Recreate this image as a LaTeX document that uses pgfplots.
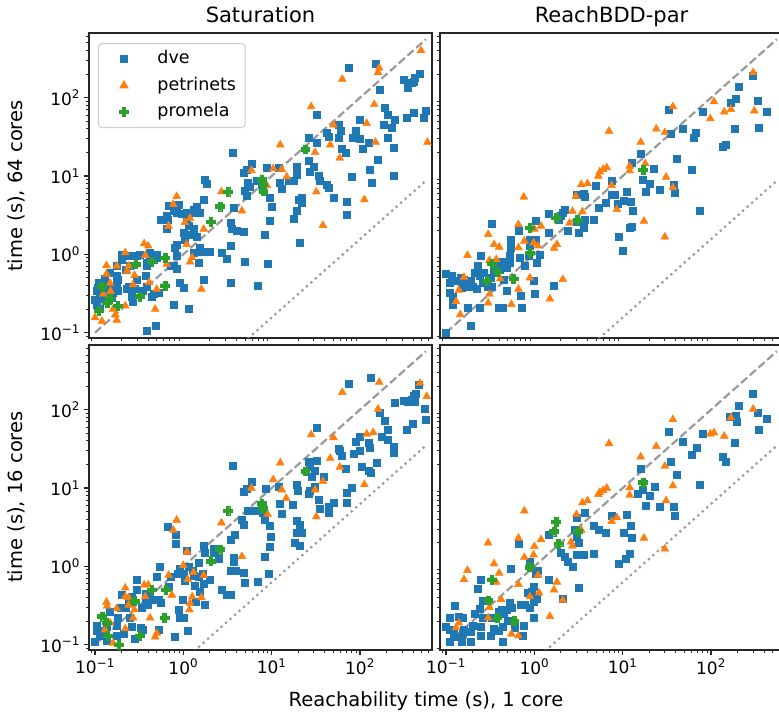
\documentclass[border=0pt]{standalone}
\usepackage{pgfplots}
\pgfplotsset{compat=1.18}
\usepackage{fontspec}
\setmainfont{DejaVu Sans}
\definecolor{c0}{HTML}{1F77B4}
\definecolor{c1}{HTML}{FF7F0E}
\definecolor{c2}{HTML}{2CA02C}
\definecolor{lg}{HTML}{9A9A9A}
\definecolor{legedge}{HTML}{CCCCCC}
\newcommand\ticksz{\fontsize{17}{20}\selectfont}
\newcommand\titlesz{\fontsize{21}{25}\selectfont}
\newcommand\labsz{\fontsize{19.5}{23}\selectfont}
\newcommand\legsz{\fontsize{17.5}{21}\selectfont}
\pgfdeclareplotmark{Pplus}{%
  \pgfmathsetlengthmacro\pmA{\pgfplotmarksize}%
  \pgfmathsetlengthmacro\pmB{0.4*\pgfplotmarksize}%
  \pgfpathmoveto{\pgfqpoint{-\pmB}{\pmA}}%
  \pgfpathlineto{\pgfqpoint{\pmB}{\pmA}}%
  \pgfpathlineto{\pgfqpoint{\pmB}{\pmB}}%
  \pgfpathlineto{\pgfqpoint{\pmA}{\pmB}}%
  \pgfpathlineto{\pgfqpoint{\pmA}{-\pmB}}%
  \pgfpathlineto{\pgfqpoint{\pmB}{-\pmB}}%
  \pgfpathlineto{\pgfqpoint{\pmB}{-\pmA}}%
  \pgfpathlineto{\pgfqpoint{-\pmB}{-\pmA}}%
  \pgfpathlineto{\pgfqpoint{-\pmB}{-\pmB}}%
  \pgfpathlineto{\pgfqpoint{-\pmA}{-\pmB}}%
  \pgfpathlineto{\pgfqpoint{-\pmA}{\pmB}}%
  \pgfpathlineto{\pgfqpoint{-\pmB}{\pmB}}%
  \pgfpathclose
  \pgfusepathqfillstroke
}
\pgfplotsset{every axis/.append style={xmode=log, ymode=log, scale only axis, width=343pt, height=305pt,
  xmin=0.0855, xmax=653, ymin=0.0855, ymax=670,
  axis line style={line width=1.2pt, black!85},
  tick align=outside,
  major tick length=5.5pt, minor tick length=3.2pt,
  major tick style={line width=1.2pt, black!85},
  minor tick style={line width=0.9pt, black!85},
  tick label style={font=\ticksz},
  xtick={0.1,1,10,100}, ytick={0.1,1,10,100},
  minor xtick={0.09,0.2,0.3,0.4,0.5,0.6,0.7,0.8,0.9,2,3,4,5,6,7,8,9,20,30,40,50,60,70,80,90,200,300,400,500,600},
  minor ytick={0.09,0.2,0.3,0.4,0.5,0.6,0.7,0.8,0.9,2,3,4,5,6,7,8,9,20,30,40,50,60,70,80,90,200,300,400,500,600},
  xticklabels={10\textsuperscript{−1},10\textsuperscript{0},10\textsuperscript{1},10\textsuperscript{2}},
  yticklabels={10\textsuperscript{−1},10\textsuperscript{0},10\textsuperscript{1},10\textsuperscript{2}},
  xtick pos=bottom, ytick pos=left, anchor=south west}}
\begin{document}
\begin{tikzpicture}[x=1pt,y=1pt]
\useasboundingbox (0,0) rectangle (779pt,714pt);
% ---------------- top left: Saturation, 64 cores
\begin{axis}[xmajorticks=false, xminorticks=false, at={(89pt,376pt)},
  legend image code/.code={\path (0pt,0pt) (36pt,0pt); \draw[#1, sharp corners, opacity=1] plot coordinates {(18pt,0pt)};},
  legend style={at={(0.0262,0.967)}, anchor=north west, draw=legedge, line width=1pt,
   rounded corners=3.5pt, fill=white, fill opacity=0.8, draw opacity=1, text opacity=1,
   inner xsep=7pt, inner ysep=5pt, font=\legsz, row sep=5.5pt, column sep=13pt,
   nodes={inner sep=2pt, text height=13pt, text depth=4pt}},
  legend cell align=left]
\addplot[only marks, mark=square*, mark size=3.5pt, color=c0] coordinates {(74,245) (150,270) (310,170) (350,134) (385,156) (420,180) (470,200) (400,160) (168,128) (192,75) (206,61) (249,53) (226,41) (337,55) (400,65) (557,68) (520,56) (184,45) (206,31) (243,23) (158,16) (238,10) (136,8.3) (128,12) (124,27) (107,22) (100,52) (89,38) (82,31) (100,30) (57,45) (61,38) (57,31) (62,22) (68,20) (42,36) (44,32) (32,61) (26,31) (32,27) (26,15.5) (27,11.3) (34,10) (30,13) (35,8.6) (42,7.8) (44,7.1) (50,5.3) (70,4.7) (70,3.2) (81,9.7) (22,5.3) (20,5) (22,4.6) (19,3.6) (17.6,2.85) (21,1.4) (15.4,8.6) (17.6,8.6) (12.4,8.2) (13,6.8) (8.8,12.8) (12,12.8) (19,13) (19,10.5) (9.6,5.3) (10,4.1) (9.4,2.7) (8.4,1.8) (9.1,0.77) (7,0.4) (4.9,6.5) (5.2,5.6) (3.7,3.9) (3.4,2.5) (3.5,2.1) (4,2) (4.8,1.95) (4.9,0.8) (3.4,1.28) (2.7,1.05) (3.1,0.88) (3.4,0.44) (5.4,8.2) (5.7,7.4) (4.8,11) (5.2,12.2) (5.9,14.4) (6.8,8.6) (7.7,7.8) (7.9,7.1) (3.6,20) (1.76,8.9) (1.84,8) (1.68,5) (1.42,4.1) (1.3,3.75) (1.36,3.4) (1.54,3.4) (1.09,3.4) (1.09,2.8) (1.14,2.3) (1,1.9) (1.04,1.55) (1.3,2.1) (1.19,1.8) (1.42,1.7) (1.54,1.22) (1.6,1.08) (1.3,1.05) (2,1.08) (1.48,0.78) (1.68,0.47) (0.92,0.43) (1,0.38) (0.77,0.23) (1.14,0.2) (0.84,0.95) (0.84,1.34) (0.8,1.22) (0.77,0.71) (0.84,0.66) (0.71,0.71) (0.65,3.1) (0.66,2.8) (0.65,2.1) (0.56,2.8) (0.68,4.2) (0.77,3.6) (0.84,3.4) (0.96,3.3) (0.88,4.3) (0.46,0.86) (0.5,1.0) (0.5,0.91) (0.42,0.86) (0.42,1.05) (0.38,0.78) (0.38,0.71) (0.37,0.53) (0.38,0.39) (0.35,0.34) (0.44,0.29) (0.46,0.31) (0.53,0.32) (0.38,0.107) (0.49,0.124) (0.3,0.48) (0.28,0.36) (0.27,0.25) (0.26,0.29) (0.23,0.36) (0.24,0.39) (0.25,0.71) (0.22,0.64) (0.2,1.0) (0.23,0.95) (0.26,0.95) (0.3,0.95) (0.32,1.0) (0.2,0.86) (0.176,0.43) (0.16,0.39) (0.16,0.32) (0.18,0.34) (0.155,0.28) (0.148,0.32) (0.135,0.41) (0.13,0.49) (0.124,0.36) (0.114,0.42) (0.11,0.43) (0.107,0.38) (0.104,0.34) (0.114,0.29) (0.12,0.27) (0.1,0.26) (0.104,0.23) (0.114,0.2) (0.176,0.71) (0.148,0.58) (0.176,0.53) (0.18,0.48)};
\addlegendentry{dve}
\addplot[only marks, mark=triangle*, mark size=4.6pt, color=c1] coordinates {(490,400) (165,240) (160,210) (63,172) (28,77) (145,82) (50,45) (119,47) (12.5,25) (46,25) (59,17) (150,27) (580,27) (31,20) (10.4,12.4) (5.9,11.8) (13,12.2) (14.8,9.8) (8.8,7.6) (32,6.3) (112,5) (38,2.35) (2.7,6.3) (0.84,5.5) (0.77,4.35) (4.6,3.6) (1.04,2.55) (1.19,2.9) (0.68,2.3) (1.7,2.1) (1.09,1.34) (1.26,0.91) (1.19,0.8) (0.65,0.75) (1.6,0.36) (0.5,0.36) (0.48,0.2) (0.36,1.37) (0.4,1.28) (0.37,0.97) (0.22,1.05) (0.176,0.71) (0.135,0.72) (0.135,0.56) (0.24,0.71) (0.23,0.61) (0.28,0.54) (0.27,0.41) (0.148,0.43) (0.15,0.34) (0.124,0.31) (0.22,0.22) (0.16,0.2) (0.17,0.17) (0.176,0.145) (0.12,0.14) (0.1,0.156) (0.41,0.44)};
\addlegendentry{petrinets}
\addplot[only marks, mark=Pplus, mark size=4.4pt, color=c2] coordinates {(24,22) (7.7,9.1) (8,7.8) (8,6.4) (3.2,6.3) (2.6,4.1) (2.05,2.6) (0.62,0.91) (0.44,0.8) (0.29,0.75) (0.62,0.4) (0.32,0.29) (0.12,0.39) (0.148,0.27) (0.137,0.24) (0.11,0.19) (0.18,0.22)};
\addlegendentry{promela}
\addplot[color=lg, line width=2.2pt, dash pattern=on 8.1pt off 3.5pt, forget plot] coordinates {(0.1,0.1) (556,556)};
\addplot[color=lg, line width=2.2pt, dash pattern=on 2.2pt off 3.8pt, forget plot] coordinates {(0.1,0.0015625) (556,8.6875)};
\end{axis}
% ---------------- top right: ReachBDD-par, 64 cores
\begin{axis}[xmajorticks=false, xminorticks=false, ymajorticks=false, yminorticks=false, at={(440pt,376pt)}]
\addplot[only marks, mark=square*, mark size=3.5pt, color=c0] coordinates {(294,189) (208,137) (192,98) (166,86) (337,91) (426,67) (80,67) (33,71) (343,41) (184,40) (48,40) (35,35) (67,36) (63,31) (148,25) (135,24) (41,16.4) (61,12) (16,19) (12.8,14.6) (22.6,12.5) (17,9.1) (20,8) (18,6.4) (26.5,6.6) (39,6.2) (38,7.8) (74,3.65) (11,6.3) (10.2,4.8) (12.4,4.65) (13,3.65) (8.8,4.4) (8.2,5.7) (7.6,5.7) (7.6,8.6) (6.5,4.5) (5.3,3.9) (4.65,2.75) (3.75,5.5) (3.6,5.9) (3,5.8) (5,7.6) (11.9,2.2) (12.6,2.25) (8.9,1.67) (10,1.1) (3.6,2.2) (3.15,1.9) (3.75,2.75) (3,2.6) (2.38,2.0) (2.2,3.75) (2.1,3.4) (2,3.1) (1.87,2.8) (1.44,3.35) (1.44,1.9) (1.64,0.4) (1.0,0.31) (0.98,0.46) (1.04,2.66) (1.04,1.55) (1.16,1.0) (1.06,0.79) (0.89,1.55) (0.88,1.28) (0.87,0.95) (0.78,0.71) (0.69,0.91) (0.66,2.0) (0.54,1.55) (0.54,1.22) (0.53,0.95) (0.53,0.78) (0.49,0.68) (0.45,0.48) (0.49,0.34) (0.7,0.3) (0.72,0.21) (0.44,0.21) (0.39,0.21) (0.33,2.46) (0.37,0.71) (0.35,0.58) (0.32,0.5) (0.33,0.39) (0.3,0.39) (0.26,0.43) (0.25,0.95) (0.23,0.71) (0.22,0.58) (0.21,0.58) (0.19,0.46) (0.2,0.39) (0.175,0.39) (0.15,0.38) (0.16,0.48) (0.145,0.5) (0.133,0.46) (0.116,0.54) (0.1,0.57) (0.11,0.43) (0.11,0.32) (0.12,0.29) (0.12,0.23) (0.175,0.21) (0.24,0.21) (0.19,0.124) (0.1,0.1) (0.22,0.36) (0.24,0.53) (0.27,0.58) (0.43,0.8) (0.41,0.64)};
\addplot[only marks, mark=triangle*, mark size=4.6pt, color=c1] coordinates {(300,210) (37,77) (108,89) (98,54) (141,66) (168,71) (309,68) (24,40) (30,36) (7,37.5) (16,27) (18,14.4) (12,13.4) (12,11.7) (31,9.7) (37,7.1) (6.6,12.8) (6,12.2) (5.5,11.3) (5.3,10) (4,8) (3.4,7.8) (7.5,7.6) (2.95,5.5) (0.76,5.4) (8.6,3.75) (17.4,2.66) (30,1.67) (2.7,3.55) (3.5,3.5) (2.5,2.5) (1.19,2.3) (1.0,2.1) (0.66,2.4) (0.3,1.8) (0.35,1.34) (0.4,1.24) (0.77,1.48) (0.66,1.22) (0.98,1.4) (1.1,1.28) (1.8,1.34) (1.67,1.2) (0.175,0.97) (0.31,0.84) (0.37,0.86) (2.1,0.48) (0.89,0.5) (0.41,0.49) (0.16,0.51) (0.66,0.36) (0.31,0.31) (0.14,0.35) (0.13,0.25) (0.145,0.17) (0.3,0.24) (0.55,0.23) (1.5,0.27)};
\addplot[only marks, mark=Pplus, mark size=4.4pt, color=c2] coordinates {(17,12) (1.76,2.94) (3.07,2.75) (0.89,2.2) (0.89,1.05) (0.33,0.76) (0.38,0.6) (0.29,0.46) (0.58,0.49)};
\addplot[color=lg, line width=2.2pt, dash pattern=on 8.1pt off 3.5pt] coordinates {(0.1,0.1) (556,556)};
\addplot[color=lg, line width=2.2pt, dash pattern=on 2.2pt off 3.8pt] coordinates {(0.1,0.0015625) (556,8.6875)};
\end{axis}
% ---------------- bottom left: Saturation, 16 cores
\begin{axis}[at={(89pt,64pt)}]
\addplot[only marks, mark=square*, mark size=3.5pt, color=c0] coordinates {(133,255) (74,215) (460,210) (400,152) (545,102) (560,75) (392,67) (337,55) (315,130) (350,128) (380,135) (420,128) (430,160) (249,122) (168,91) (188,72) (204,55) (178,45) (204,41) (238,34) (243,28) (124,37.5) (128,33) (100,45) (90,39) (84,27.6) (100,30) (104,18.5) (124,16.4) (133,15.5) (155,21) (57,32) (59,30) (62,26) (68,17.6) (80,10) (70,8.6) (70,6.5) (50,6.5) (44,5.7) (44,4.9) (35,5.5) (34,7) (39,13.8) (31,10.3) (27,9.3) (26,8.4) (32,59) (26,21.5) (27,18.5) (31,16.7) (32,22.5) (28.5,13.8) (19.2,11.1) (19.5,9.3) (12.4,6.3) (17.4,6.2) (13,4.7) (19.2,3.8) (21,3.4) (22,2.66) (19,2.66) (18,2.0) (21,1.86) (12,10.3) (8.6,9.8) (6,12) (5.2,9.8) (4.8,8.9) (6.5,5.2) (5.4,5.1) (8,4.9) (8.4,3.9) (9.6,3.3) (9.8,2.4) (9.4,1.77) (8.4,1.33) (9.3,0.81) (7,0.63) (4.8,3.4) (4.6,3.9) (3.8,2.55) (3.4,2.2) (3.6,19.5) (3.75,1.3) (3.7,1.14) (3.9,0.89) (3.4,0.87) (4.8,0.82) (4.9,0.61) (2.7,0.5) (3.1,0.44) (3.4,0.43) (2.5,1.27) (2.2,1.7) (2.19,1.48) (1.68,1.86) (1.76,1.48) (1.48,1.1) (1.66,0.81) (1.48,0.73) (2.0,0.68) (1.54,0.48) (1.68,0.6) (1.76,0.32) (1.38,0.35) (1.36,0.57) (1.09,1.6) (1.14,0.98) (1.26,0.89) (1.3,0.77) (1.04,0.65) (0.92,0.93) (0.86,0.81) (1.0,0.81) (0.99,0.37) (1.0,0.22) (0.92,0.22) (1.12,0.15) (0.8,0.126) (0.88,0.28) (0.82,2.5) (0.82,1.95) (0.66,3.25) (0.69,0.55) (0.71,0.73) (0.54,0.98) (0.5,0.73) (0.53,0.37) (0.55,0.34) (0.53,0.156) (0.42,0.41) (0.4,0.32) (0.37,0.45) (0.34,0.3) (0.33,0.165) (0.35,0.156) (0.3,0.68) (0.3,0.5) (0.26,0.41) (0.24,0.34) (0.22,0.3) (0.25,0.22) (0.26,0.17) (0.28,0.12) (0.2,0.43) (0.195,0.3) (0.18,0.22) (0.176,0.175) (0.176,0.13) (0.148,0.26) (0.135,0.17) (0.135,0.114) (0.114,0.13) (0.104,0.175) (0.104,0.15) (0.1,0.108) (0.124,0.15) (0.21,0.14) (0.37,0.35) (0.44,0.37)};
\addplot[only marks, mark=triangle*, mark size=4.6pt, color=c1] coordinates {(477,218) (165,225) (63,167) (160,102) (570,148) (28,48) (50,44) (119,49) (141,51) (46,24) (59,18.5) (12.5,21) (13,9.5) (14.6,7.4) (10.4,12.8) (31,9.5) (38,12.2) (32,4.3) (112,11.1) (9,4.6) (5.9,10) (2.7,3.6) (0.84,3.9) (0.77,2.9) (4.6,1.34) (1.1,1.52) (1.12,0.68) (1.0,1.03) (0.68,0.77) (1.7,0.77) (1.3,0.84) (1.26,0.41) (1.19,0.34) (1.17,0.28) (1.6,0.4) (0.74,0.43) (0.5,0.14) (0.48,0.126) (0.42,0.22) (0.36,0.58) (0.4,0.58) (0.37,0.41) (0.22,0.53) (0.22,0.41) (0.24,0.4) (0.24,0.32) (0.176,0.29) (0.28,0.28) (0.27,0.22) (0.135,0.35) (0.137,0.31) (0.148,0.19) (0.22,0.16) (0.13,0.155) (0.16,0.105)};
\addplot[only marks, mark=Pplus, mark size=4.4pt, color=c2] coordinates {(24,16.4) (7.7,6.4) (7.9,5.5) (3.2,5.1) (2.6,1.65) (2.05,1.17) (0.63,0.5) (0.44,0.5) (0.28,0.36) (0.61,0.22) (0.32,0.13) (0.12,0.23) (0.135,0.19) (0.14,0.13) (0.185,0.1)};
\addplot[color=lg, line width=2.2pt, dash pattern=on 8.1pt off 3.5pt] coordinates {(0.1,0.1) (556,556)};
\addplot[color=lg, line width=2.2pt, dash pattern=on 2.2pt off 3.8pt] coordinates {(0.1,0.00625) (556,34.75)};
\end{axis}
% ---------------- bottom right: ReachBDD-par, 16 cores
\begin{axis}[ymajorticks=false, yminorticks=false, at={(440pt,64pt)}]
\addplot[only marks, mark=square*, mark size=3.5pt, color=c0] coordinates {(294,162) (208,114) (192,85) (162,82) (196,70) (337,92) (426,77) (343,55) (80,50) (33,53) (184,38) (48,39) (68,33) (61,27) (135,25) (148,22) (35,21.5) (41,14.8) (16,17.6) (74,11) (23,10.3) (20,7.9) (17,9.6) (14.6,8.4) (18,6) (26.5,5.7) (38,5.8) (39,4.4) (11,4.6) (7.5,4.4) (6.5,2.66) (5.3,2.94) (4.65,3.3) (3.7,4.8) (3,4.2) (10.2,2.7) (12.6,2.3) (12.4,3.3) (11.9,1.45) (10.7,1.27) (8.9,1.07) (3,2.4) (2.9,2.9) (1.44,2.5) (3.15,2.0) (3.6,1.4) (3,1.4) (4.65,1.45) (3.2,0.53) (2.1,0.39) (2,1.48) (2.2,1.34) (2.38,1.14) (2.75,0.98) (0.66,1.95) (0.54,0.93) (0.88,1.14) (1.1,0.89) (1.04,0.81) (1.44,0.67) (0.98,0.55) (0.94,0.48) (0.84,0.46) (1.06,0.39) (0.98,0.35) (0.89,0.3) (0.78,0.32) (0.7,0.32) (0.98,0.22) (0.76,0.175) (0.73,0.13) (0.6,0.165) (0.55,0.3) (0.53,0.34) (0.49,0.28) (0.45,0.25) (0.43,0.28) (0.39,0.26) (0.5,0.2) (0.44,0.17) (0.39,0.15) (0.44,0.11) (0.32,0.13) (0.35,0.16) (0.33,0.22) (0.26,0.22) (0.25,0.17) (0.25,0.13) (0.26,0.36) (0.25,0.67) (0.23,0.52) (0.24,0.29) (0.21,0.25) (0.2,0.175) (0.19,0.145) (0.19,0.108) (0.16,0.155) (0.155,0.14) (0.155,0.22) (0.14,0.23) (0.124,0.31) (0.11,0.22) (0.1,0.17) (0.11,0.155) (0.123,0.14) (0.13,0.126) (0.15,0.11) (0.11,0.11)};
\addplot[only marks, mark=triangle*, mark size=4.6pt, color=c1] coordinates {(300,102) (37,75) (168,79) (108,51) (98,49) (141,46) (7,37) (24,34) (16,25) (30,19) (37,10.7) (31,6.9) (12,10.1) (12,8.1) (6.6,10) (6,9.3) (5.5,8.8) (5.3,8.3) (4,6.9) (3.5,6.5) (3,4.6) (0.77,5.1) (7.5,3.75) (8.6,4.2) (17.4,2.3) (30,1.67) (2.6,2.05) (2.7,1.82) (3.4,2.9) (1.19,2.2) (1.0,1.8) (0.66,2.3) (0.3,2.0) (0.35,1.08) (0.4,0.82) (0.175,0.89) (0.16,0.68) (0.37,0.63) (0.77,1.3) (0.66,0.59) (0.98,1.4) (1.1,0.77) (0.89,0.41) (1.13,0.46) (1.8,0.63) (1.67,0.5) (2.1,0.37) (0.31,0.3) (0.42,0.38) (0.3,0.22) (1.5,0.23) (0.14,0.19) (0.13,0.165) (0.55,0.137) (0.66,0.13)};
\addplot[only marks, mark=Pplus, mark size=4.4pt, color=c2] coordinates {(17,11.8) (1.76,3.7) (1.67,2.8) (1.87,1.93) (3.09,2.8) (0.88,0.98) (0.33,0.68) (0.3,0.37) (0.38,0.22) (0.59,0.2)};
\addplot[color=lg, line width=2.2pt, dash pattern=on 8.1pt off 3.5pt] coordinates {(0.1,0.1) (556,556)};
\addplot[color=lg, line width=2.2pt, dash pattern=on 2.2pt off 3.8pt] coordinates {(0.1,0.00625) (556,34.75)};
\end{axis}
\node[font=\titlesz, anchor=base] at (260.5pt,691.3pt) {Saturation};
\node[font=\titlesz, anchor=base] at (611.5pt,691.3pt) {ReachBDD-par};
\node[font=\labsz, rotate=90, anchor=base] at (22.5pt,528pt) {time (s), 64 cores};
\node[font=\labsz, rotate=90, anchor=base] at (22.5pt,217pt) {time (s), 16 cores};
\node[font=\labsz, anchor=base] at (426pt,7.2pt) {Reachability time (s), 1 core};
\end{tikzpicture}
\end{document}
